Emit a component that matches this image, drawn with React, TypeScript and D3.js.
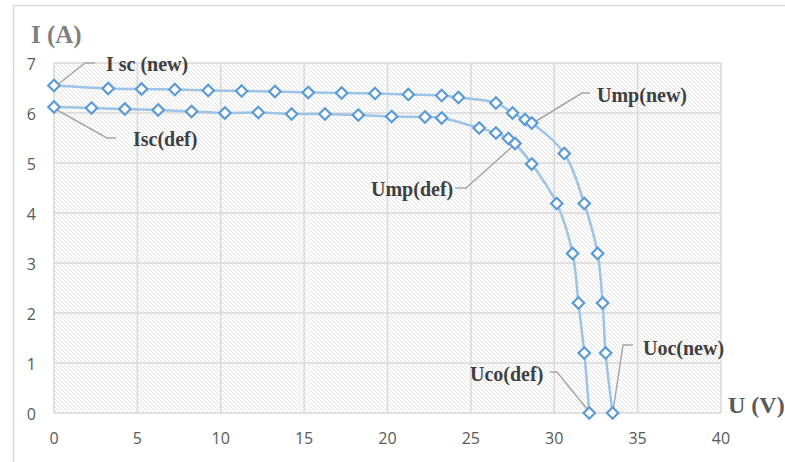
import React from "react";
import * as d3 from "d3";

const newU = [0, 3.25, 5.25, 7.25, 9.25, 11.25, 13.25, 15.25, 17.25, 19.25, 21.25, 23.25, 24.25, 26.5, 27.5, 28.25, 28.65, 30.6, 31.8, 32.6, 32.9, 33.08, 33.5];
const newI = [6.55, 6.49, 6.48, 6.47, 6.45, 6.44, 6.43, 6.41, 6.4, 6.39, 6.37, 6.35, 6.31, 6.2, 6.0, 5.87, 5.8, 5.19, 4.19, 3.19, 2.2, 1.2, 0];
const defU = [0, 2.25, 4.25, 6.25, 8.25, 10.25, 12.25, 14.25, 16.25, 18.25, 20.25, 22.25, 23.25, 25.5, 26.5, 27.25, 27.65, 28.65, 30.15, 31.1, 31.45, 31.8, 32.1];
const defI = [6.12, 6.1, 6.08, 6.06, 6.03, 6.0, 6.01, 5.98, 5.98, 5.96, 5.93, 5.92, 5.9, 5.7, 5.6, 5.49, 5.39, 4.98, 4.19, 3.19, 2.2, 1.2, 0];
const xTicks = [0, 5, 10, 15, 20, 25, 30, 35, 40];
const yTicks = [0, 1, 2, 3, 4, 5, 6, 7];

const labels = [
  { text: "I sc (new)", x: 106, y: 71, leader: [[56, 86], [85, 63], [95, 63]] },
  { text: "Isc(def)", x: 133, y: 146, leader: [[57, 110], [107, 138], [116, 138]] },
  { text: "Ump(new)", x: 597, y: 102, leader: [[533, 123], [582, 93], [590, 93]] },
  { text: "Ump(def)", x: 371, y: 196, leader: [[455, 188], [466, 188], [513, 146]] },
  { text: "Uco(def)", x: 470, y: 381, leader: [[550, 372], [557, 372], [587, 409]] },
  { text: "Uoc(new)", x: 643, y: 355, leader: [[633, 345], [623, 345], [613, 411]] },
];

export default function App() {
  const W = 785, H = 462;
  const x = d3.scaleLinear().domain([0, 40]).range([54, 721]);
  const y = d3.scaleLinear().domain([0, 7]).range([413, 63]);
  const line = d3
    .line<[number, number]>()
    .x((d) => x(d[0]))
    .y((d) => y(d[1]))
    .curve(d3.curveCatmullRom.alpha(0.5));
  const series = [
    newU.map((u, i) => [u, newI[i]] as [number, number]),
    defU.map((u, i) => [u, defI[i]] as [number, number]),
  ];
  const diamond = (cx: number, cy: number, r: number) =>
    `M${cx},${cy - r}L${cx + r},${cy}L${cx},${cy + r}L${cx - r},${cy}Z`;
  const serif = "'Liberation Serif', 'Times New Roman', serif";
  const sans = "'Open Sans', 'DejaVu Sans', sans-serif";
  return (
    <svg width={W} height={H} style={{ position: "absolute", left: 0, top: 0, background: "#fff" }}>
      <defs>
        <pattern id="hatch" patternUnits="userSpaceOnUse" width={4} height={4}>
          <path d="M-1,-1L5,5M3,-1L5,1M-1,3L1,5" stroke="#e2e2e2" strokeWidth={1} />
        </pattern>
      </defs>
      <rect x={13.5} y={5.5} width={900} height={600} fill="#fff" stroke="#d9d9d9" strokeWidth={1.5} />
      <rect x={54} y={63} width={667} height={350} fill="url(#hatch)" />
      {xTicks.map((t) => (
        <line key={"gx" + t} x1={x(t)} x2={x(t)} y1={63} y2={413} stroke="#d9d9d9" strokeWidth={1.5} />
      ))}
      {yTicks.map((t) => (
        <line key={"gy" + t} x1={54} x2={721} y1={y(t)} y2={y(t)} stroke="#d9d9d9" strokeWidth={1.5} />
      ))}
      {xTicks.map((t) => (
        <text key={"tx" + t} x={x(t)} y={444} textAnchor="middle" fontFamily={sans} fontSize={16} fill="#595959">
          {t}
        </text>
      ))}
      {yTicks.map((t) => (
        <text key={"ty" + t} x={36} y={y(t) + 7} textAnchor="end" fontFamily={sans} fontSize={16} fill="#595959">
          {t}
        </text>
      ))}
      {series.map((s, i) => (
        <path key={"l" + i} d={line(s) || ""} fill="none" stroke="#9dc3e6" strokeWidth={2.5} />
      ))}
      {labels.map((l, i) => (
        <polyline key={"ld" + i} points={l.leader.map((p) => p.join(",")).join(" ")} fill="none" stroke="#a6a6a6" strokeWidth={1.5} />
      ))}
      {series.map((s, i) =>
        s.map((d, j) => (
          <path key={"m" + i + "-" + j} d={diamond(x(d[0]), y(d[1]), 5.7)} fill="#fff" stroke="#5b9bd5" strokeWidth={2.2} />
        ))
      )}
      {labels.map((l, i) => (
        <text key={"lt" + i} x={l.x} y={l.y} fontFamily={serif} fontWeight="bold" fontSize={20} fill="#404040">
          {l.text}
        </text>
      ))}
      <text x={31} y={43} fontFamily={serif} fontWeight="bold" fontSize={25} fill="#7f7f7f">
        I (A)
      </text>
      <text x={728} y={413} fontFamily={serif} fontWeight="bold" fontSize={24} fill="#595959">
        U (V)
      </text>
    </svg>
  );
}
